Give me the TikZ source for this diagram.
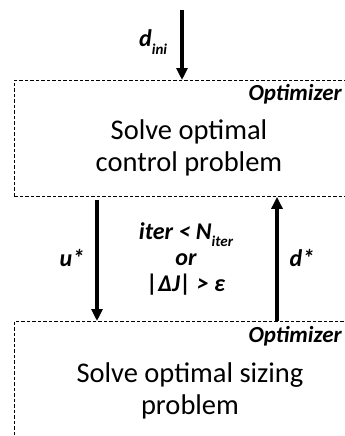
\documentclass[tikz,border=0pt]{standalone}
\usepackage{fontspec}
\setmainfont{Carlito}
\usetikzlibrary{arrows.meta}
\begin{document}
\begin{tikzpicture}[x=1pt,y=-1pt,
  dashbox/.style={draw, line width=0.9pt, dash pattern=on 3.5pt off 2pt, minimum width=345pt, anchor=north west, inner sep=0pt},
  arr/.style={line width=3.2pt, -{Triangle[length=12pt,width=11pt]}},
  lbl/.style={font=\fontsize{24}{26}\selectfont\bfseries\itshape, align=center, inner sep=0pt},
  opt/.style={font=\fontsize{23}{25}\selectfont\bfseries\itshape, anchor=base east, inner sep=0pt},
  maintxt/.style={font=\fontsize{28.5}{32}\selectfont, align=center, inner sep=0pt}]
\useasboundingbox (0,0) rectangle (345,436);
\clip (0,0) rectangle (345,436);
\node[dashbox, minimum height=116pt] (ctrl) at (14,80) {};
\node[dashbox, minimum height=140pt] (size) at (14,321) {};
\node[opt] (opt1) at (342,100) {Optimizer};
\node[opt] (opt2) at (342,342) {Optimizer};
\node[maintxt] (t1) at (189,148) {Solve optimal\\control problem};
\node[maintxt] (t2) at (190,391) {Solve optimal sizing\\problem};
\coordinate (dstart) at (182,10);
\coordinate (ustart) at (97,200);
\coordinate (dx) at (277,0);
\draw[arr] (dstart) -- (dstart |- ctrl.north);
\draw[arr] (ustart) -- (ustart |- size.north);
\draw[arr] (dx |- size.north) -- (dx |- ctrl.south);
\node[lbl, anchor=base west] (dini) at (139,47) {d\raisebox{-0.3em}{\fontsize{15}{15}\selectfont ini}};
\node[lbl] (ul) at (72,258) {u*};
\node[lbl] (dl) at (302,258) {d*};
\node[lbl] (cond) at (186,259) {iter < N\raisebox{-0.3em}{\fontsize{15}{15}\selectfont iter}\\or\\|ΔJ| > ε};
\end{tikzpicture}
\end{document}
